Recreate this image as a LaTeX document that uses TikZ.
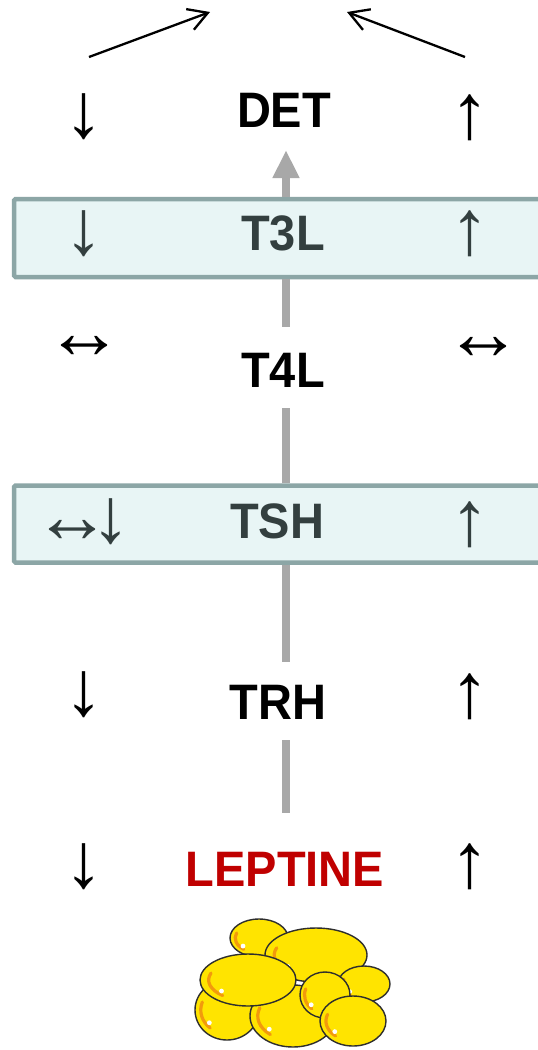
\documentclass[tikz,border=0pt]{standalone}
\usepackage{fontspec}
\usepackage{graphicx}
\setmainfont{Liberation Sans}
\usetikzlibrary{arrows.meta}

\definecolor{spinegray}{HTML}{A8A8A8}
\definecolor{bandedge}{HTML}{8CA6A6}
\definecolor{bandfill}{HTML}{E8F5F5}
\definecolor{bandtext}{HTML}{333F3F}
\definecolor{leptred}{HTML}{C00000}
\definecolor{fatyellow}{HTML}{FFE400}
\definecolor{fatorange}{HTML}{F29A0C}
\definecolor{fatline}{HTML}{2E2E2E}

\newcommand{\hormone}[1]{\scalebox{1}[1.06]{\fontsize{47}{50}\selectfont\bfseries #1}}
\newcommand{\trend}[1]{{\fontsize{78}{80}\selectfont #1}}

\tikzset{
  hlabel/.style={inner sep=0pt, text height=36pt, text depth=0pt},
  arrowmark/.style={inner sep=0pt},
  spine/.style={draw=spinegray, line width=8pt},
  band/.style={draw=bandedge, fill=bandfill, line width=4.5pt, rounded corners=1.5pt,
    minimum width=546pt, inner sep=0pt},
  feedback/.style={draw=black, line width=2.3pt, -{Straight Barb[length=19pt,width=22pt,line width=2.3pt]}},
  cell/.style={draw=fatline, fill=fatyellow, line width=1.4pt},
  glint/.style={draw=fatorange, line width=3.2pt, line cap=round},
  shine/.style={fill=white}
}

\begin{document}
\begin{tikzpicture}[x=1pt, y=-1pt]
\useasboundingbox (0,0) rectangle (538,1050);
\fill[white] (0,0) rectangle (538,1050);

\coordinate (axis) at (286,0);

% --- main text column ---
\node[hlabel] (det) at (284,128) [anchor=south] {\hormone{DET}};
\node[hlabel] (t4l) at (283,388) [anchor=south] {\hormone{T4L}};
\node[hlabel] (trh) at (278,720) [anchor=south] {\hormone{TRH}};
\node[hlabel, text=leptred] (lep) at (285,887) [anchor=south] {\hormone{LEPTINE}};

% --- gray spine, drawn under the bands ---
\draw[spine] (lep.north -| axis) [shorten <=38pt, shorten >=20pt] -- (trh.south -| axis);

% --- bands ---
\node[band, minimum height=78pt] (t3lbox) at (287,238) {};
\node[band, minimum height=77pt] (tshbox) at (287,524) {};

\draw[spine] (trh.north -| axis) [shorten <=22pt] -- (tshbox.south -| axis);
\draw[spine] (tshbox.north -| axis) [shorten >=20pt] -- (t4l.south -| axis);
\draw[spine] (t4l.north -| axis) [shorten <=25pt] -- (t3lbox.south -| axis);
\draw[spine, -{Triangle[length=28pt,width=25pt]}] (t3lbox.north -| axis)
  [shorten >=22pt] -- (det.south -| axis);

\node[hlabel, text=bandtext] (t3l) at (283,251) [anchor=south] {\hormone{T3L}};
\node[hlabel, text=bandtext] (tsh) at (277,539) [anchor=south] {\hormone{TSH}};

% --- trend arrows, left column ---
\node[arrowmark] (detL) at (84,117) {\trend{↓}};
\node[arrowmark, text=bandtext] (t3lL) at (84,234) {\trend{↓}};
\node[arrowmark] (t4lL) at (84,347) {\trend{↔}};
\node[arrowmark, text=bandtext] (tshL) at (82,522) {\trend{↔\kern-20pt↓}};
\node[arrowmark] (trhL) at (84,695) {\trend{↓}};
\node[arrowmark] (lepL) at (84,867) {\trend{↓}};

% --- trend arrows, right column ---
\node[arrowmark] (detR) at (470,118) {\trend{↑}};
\node[arrowmark, text=bandtext] (t3lR) at (470,234) {\trend{↑}};
\node[arrowmark] (t4lR) at (483,348) {\trend{↔}};
\node[arrowmark, text=bandtext] (tshR) at (470,525) {\trend{↑}};
\node[arrowmark] (trhR) at (470,697) {\trend{↑}};
\node[arrowmark] (lepR) at (470,867) {\trend{↑}};

% --- feedback arrows at the top ---
\coordinate (fbLs) at (89,57);
\coordinate (fbLe) at (210,12);
\coordinate (fbRs) at (465,57);
\coordinate (fbRe) at (347,12);
\draw[feedback] (fbLs) -- (fbLe);
\draw[feedback] (fbRs) -- (fbRe);

% --- adipocyte cluster ---
\newcommand{\fatcell}[4]{%
  \draw[cell] (#1,#2) ellipse [x radius=#3, y radius=#4];
  \draw[glint] ([shift={(#1,#2)}]200:{#3*0.82} and {#4*0.78})
      arc[start angle=200, end angle=130, x radius=#3*0.82, y radius=#4*0.78];
  \fill[shine] ([shift={(#1,#2)}]140:{#3*0.72} and {#4*0.66}) circle (2.4);
}
\fatcell{259}{938}{29}{19}
\fatcell{316}{955}{51}{27}
\fatcell{364}{984}{26}{18}
\fatcell{227}{1010}{32}{30}
\fatcell{293}{1016}{43}{31}
\fatcell{248}{980}{48}{26}
\fatcell{325}{995}{25}{23}
\fatcell{353}{1021}{33}{25}

\end{tikzpicture}
\end{document}
